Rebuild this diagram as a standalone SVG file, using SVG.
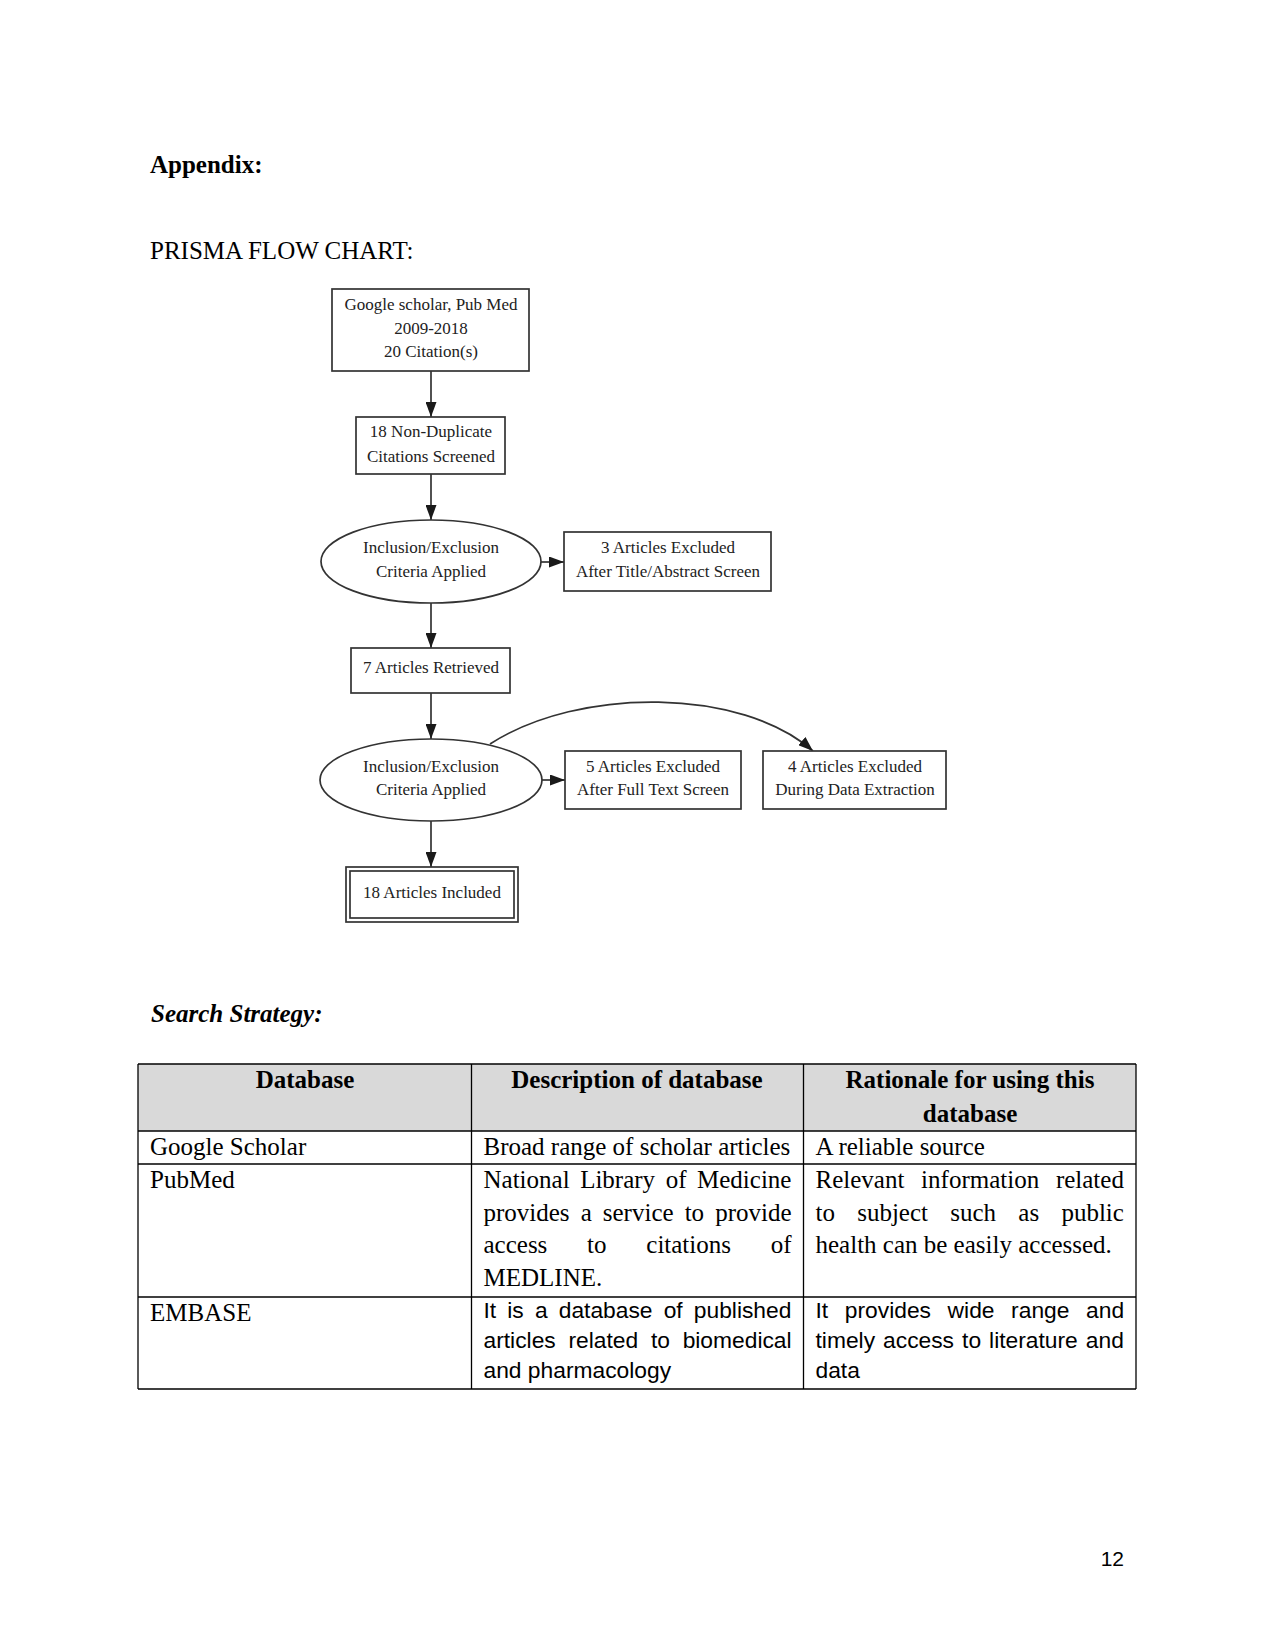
<svg xmlns="http://www.w3.org/2000/svg" width="1275" height="1650" viewBox="0 0 1275 1650">
<style>
.pg{font-family:"Liberation Serif","Times New Roman",serif;font-size:25px;fill:#000}
.b{font-weight:bold}
.bi{font-weight:bold;font-style:italic}
.fc{font-family:"Liberation Serif","Times New Roman",serif;font-size:17px;fill:#222;text-anchor:middle}
.box{fill:#fff;stroke:#333;stroke-width:1.7}
.edge{fill:none;stroke:#333;stroke-width:1.7}
.tb{font-family:"Liberation Serif","Times New Roman",serif;font-size:25px;fill:#000}
.th{font-weight:bold;text-anchor:middle}
.ar{font-family:"Liberation Sans",Arial,sans-serif;font-size:22.8px;fill:#000}
.grid{stroke:#000;stroke-width:1.3}
</style>
<defs>
<marker id="ah" markerUnits="userSpaceOnUse" markerWidth="15" markerHeight="11" refX="15" refY="5.5" orient="auto">
<path d="M0,0 L15,5.5 L0,11 z" fill="#1a1a1a"/>
</marker>
</defs>
<rect width="1275" height="1650" fill="#fff"/>

<text class="pg b" x="150" y="173">Appendix:</text>
<text class="pg" x="150" y="259">PRISMA FLOW CHART:</text>

<g id="connectors">
<path class="edge" d="M431,371 L431,417" marker-end="url(#ah)"/>
<path class="edge" d="M431,474 L431,520" marker-end="url(#ah)"/>
<path class="edge" d="M541,562 L564,562" marker-end="url(#ah)"/>
<path class="edge" d="M431,603 L431,648" marker-end="url(#ah)"/>
<path class="edge" d="M431,693 L431,739" marker-end="url(#ah)"/>
<path class="edge" d="M542,780 L565,780" marker-end="url(#ah)"/>
<path class="edge" d="M490,744 C580,686 742,688 813,751" marker-end="url(#ah)"/>
<path class="edge" d="M431,821 L431,867" marker-end="url(#ah)"/>
</g>

<g id="n1">
<rect class="box" x="332" y="289" width="197" height="82"/>
<text class="fc" x="431" y="310">Google scholar, Pub Med</text>
<text class="fc" x="431" y="334">2009-2018</text>
<text class="fc" x="431" y="357">20 Citation(s)</text>
</g>
<g id="n2">
<rect class="box" x="356" y="417" width="149" height="57"/>
<text class="fc" x="431" y="437">18 Non-Duplicate</text>
<text class="fc" x="431" y="462">Citations Screened</text>
</g>
<g id="n3">
<ellipse class="box" cx="431" cy="561.5" rx="110" ry="41.5"/>
<text class="fc" x="431" y="553">Inclusion/Exclusion</text>
<text class="fc" x="431" y="577">Criteria Applied</text>
</g>
<g id="n4">
<rect class="box" x="564" y="532" width="207" height="59"/>
<text class="fc" x="668" y="553">3 Articles Excluded</text>
<text class="fc" x="668" y="577">After Title/Abstract Screen</text>
</g>
<g id="n5">
<rect class="box" x="351" y="648" width="159" height="45"/>
<text class="fc" x="431" y="673">7 Articles Retrieved</text>
</g>
<g id="n6">
<ellipse class="box" cx="431" cy="780" rx="111" ry="41"/>
<text class="fc" x="431" y="772">Inclusion/Exclusion</text>
<text class="fc" x="431" y="795">Criteria Applied</text>
</g>
<g id="n7">
<rect class="box" x="565" y="751" width="176" height="58"/>
<text class="fc" x="653" y="772">5 Articles Excluded</text>
<text class="fc" x="653" y="795">After Full Text Screen</text>
</g>
<g id="n8">
<rect class="box" x="763" y="751" width="183" height="58"/>
<text class="fc" x="855" y="772">4 Articles Excluded</text>
<text class="fc" x="855" y="795">During Data Extraction</text>
</g>
<g id="n9">
<rect class="box" x="346" y="867" width="172" height="55"/>
<rect class="box" x="350" y="871" width="164" height="47"/>
<text class="fc" x="432" y="898">18 Articles Included</text>
</g>

<text class="pg bi" x="151" y="1022">Search Strategy:</text>

<g id="table">
<rect x="138" y="1064" width="998" height="67" fill="#d9d9d9"/>
<g class="grid">
<line x1="138" y1="1064" x2="1136" y2="1064"/>
<line x1="138" y1="1131" x2="1136" y2="1131"/>
<line x1="138" y1="1164" x2="1136" y2="1164"/>
<line x1="138" y1="1297" x2="1136" y2="1297"/>
<line x1="138" y1="1389" x2="1136" y2="1389"/>
<line x1="138" y1="1064" x2="138" y2="1389"/>
<line x1="471.5" y1="1064" x2="471.5" y2="1389"/>
<line x1="803.5" y1="1064" x2="803.5" y2="1389"/>
<line x1="1136" y1="1064" x2="1136" y2="1389"/>
</g>
<text class="tb th" x="305" y="1088">Database</text>
<text class="tb th" x="637" y="1088">Description of database</text>
<text class="tb th" x="970" y="1088">Rationale for using this</text>
<text class="tb th" x="970" y="1122">database</text>

<text class="tb" x="150" y="1155">Google Scholar</text>
<text class="tb" x="483.5" y="1155">Broad range of scholar articles</text>
<text class="tb" x="815.5" y="1155">A reliable source</text>

<text class="tb" x="150" y="1188">PubMed</text>
<text class="tb" x="483.5" y="1188" word-spacing="4.3">National Library of Medicine</text>
<text class="tb" x="483.5" y="1221" word-spacing="4.8">provides a service to provide</text>
<text class="tb" x="483.5" y="1253" word-spacing="33.5">access to citations of</text>
<text class="tb" x="483.5" y="1286">MEDLINE.</text>
<text class="tb" x="815.5" y="1188" word-spacing="10.5">Relevant information related</text>
<text class="tb" x="815.5" y="1221" word-spacing="16">to subject such as public</text>
<text class="tb" x="815.5" y="1253">health can be easily accessed.</text>

<text class="tb" x="150" y="1321">EMBASE</text>
<text class="ar" x="483.5" y="1318" word-spacing="4.8">It is a database of published</text>
<text class="ar" x="483.5" y="1348" word-spacing="6.4">articles related to biomedical</text>
<text class="ar" x="483.5" y="1378">and pharmacology</text>
<text class="ar" x="815.5" y="1318" word-spacing="10.3">It provides wide range and</text>
<text class="ar" x="815.5" y="1348" word-spacing="1.7">timely access to literature and</text>
<text class="ar" x="815.5" y="1378">data</text>
</g>

<text x="1124" y="1566" font-family="'Liberation Sans',Arial,sans-serif" font-size="21" text-anchor="end">12</text>
</svg>
